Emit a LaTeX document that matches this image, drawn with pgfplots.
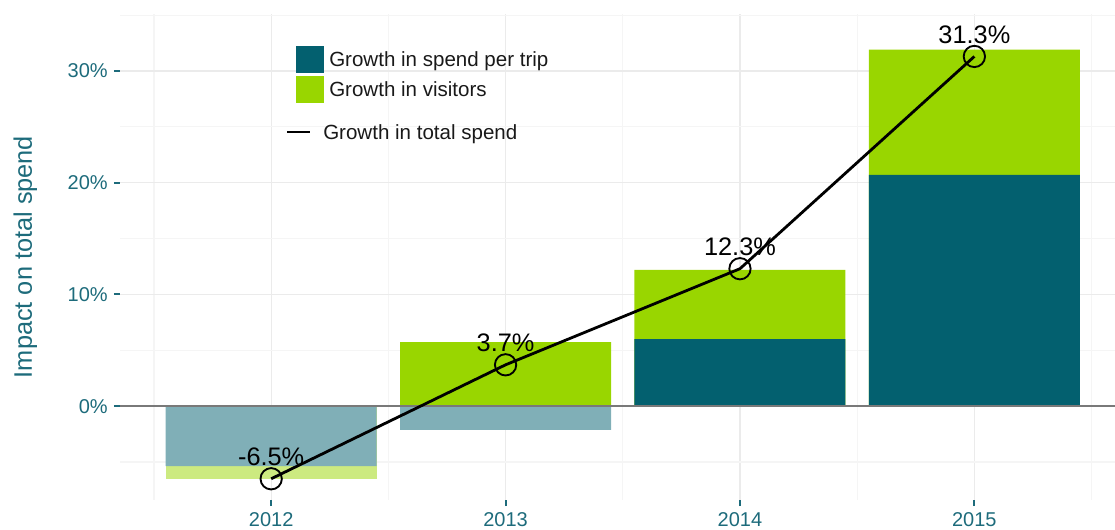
\documentclass[border=0pt]{standalone}
\usepackage{fontspec}
\setmainfont{Liberation Sans}
\usepackage{pgfplots}
\pgfplotsset{compat=1.18}
\definecolor{spend}{HTML}{03606F}
\definecolor{spendlt}{HTML}{80AFB7}
\definecolor{visit}{HTML}{99D600}
\definecolor{visitlt}{HTML}{CCEA80}
\definecolor{axtxt}{HTML}{1D6B7B}
\definecolor{gridmaj}{HTML}{EBEBEB}
\definecolor{gridmin}{HTML}{F5F5F5}

\begin{document}
\begin{tikzpicture}
\begin{axis}[
    name=ax,
    scale only axis,
    width=746.25pt, height=364.5pt,
    xmin=-0.645, xmax=3.6,
    ymin=-8.4, ymax=35.1,
    separate axis lines,
    axis x line*=bottom, axis y line*=left,
    axis line style={draw=none},
    xtick={0,1,2,3}, xticklabels={2012,2013,2014,2015},
    ytick={0,10,20,30}, yticklabels={0\%,10\%,20\%,30\%},
    minor xtick={-0.5,0.5,1.5,2.5,3.5},
    minor ytick={-5,5,15,25,35},
    grid=both,
    major grid style={gridmaj, line width=0.9pt},
    minor grid style={gridmin, line width=0.9pt},
    tick align=outside,
    major tick length=4.5pt, minor tick length=0pt,
    tick style={axtxt, line width=1.6pt},
    tick label style={font=\fontsize{15}{18}\selectfont, text=axtxt, inner sep=0pt},
    yticklabel style={anchor=east, xshift=-4.5pt},
    xticklabel style={anchor=north, yshift=-4.5pt},
    clip=false,
]
% growth in visitors: bar tops (spend per trip drawn over it from zero)
\addplot[ybar, bar width=0.9, bar shift=0pt, fill=visitlt, draw=none] coordinates {(0,-6.54)};
\addplot[ybar, bar width=0.9, bar shift=0pt, fill=visit, draw=none] coordinates {(1,5.73) (2,12.2) (3,31.9)};
% growth in spend per trip
\addplot[ybar, bar width=0.9, bar shift=0pt, fill=spendlt, draw=none] coordinates {(0,-5.37) (1,-2.12)};
\addplot[ybar, bar width=0.9, bar shift=0pt, fill=spend, draw=none] coordinates {(2,6.0) (3,20.7)};

\draw[gray!95!black, line width=1.8pt] (axis cs:-0.645,0) -- (axis cs:3.6,0);

% growth in total spend
\addplot[black, line width=2.1pt, mark=o, mark size=8pt,
    mark options={line width=1.4pt, fill=none},
    nodes near coords, point meta=explicit symbolic,
    every node near coord/.append style={anchor=base, inner sep=0pt, yshift=10pt,
        font=\fontsize{19}{22}\selectfont, text=black}]
    coordinates {(0,-6.5) [-6.5\%] (1,3.7) [3.7\%] (2,12.3) [12.3\%] (3,31.3) [31.3\%]};
\end{axis}

\begin{scope}[shift={(ax.north west)}, x=0.75pt, y=-0.75pt]
\fill[spend] (176,32) rectangle (204,59.5);
\fill[visit] (176,62) rectangle (204,89.5);
\node[anchor=base west, inner sep=0pt, font=\fontsize{15.4}{18}\selectfont, text=black!90] at (209,53) {Growth in spend per trip};
\node[anchor=base west, inner sep=0pt, font=\fontsize{15.4}{18}\selectfont, text=black!90] at (209,82.7) {Growth in visitors};
\draw[black, line width=1.6pt] (167,117.7) -- (190,117.7);
\node[anchor=base west, inner sep=0pt, font=\fontsize{15.4}{18}\selectfont, text=black!90] at (203,126) {Growth in total spend};
\node[rotate=90, anchor=base, inner sep=0pt, font=\fontsize{19}{22}\selectfont, text=axtxt] at (-88,243) {Impact on total spend};
\end{scope}

\pgfresetboundingbox
\path ([shift={(-90pt,-21.75pt)}]ax.south west) rectangle ([shift={(0pt,10.5pt)}]ax.north east);
\end{tikzpicture}
\end{document}
